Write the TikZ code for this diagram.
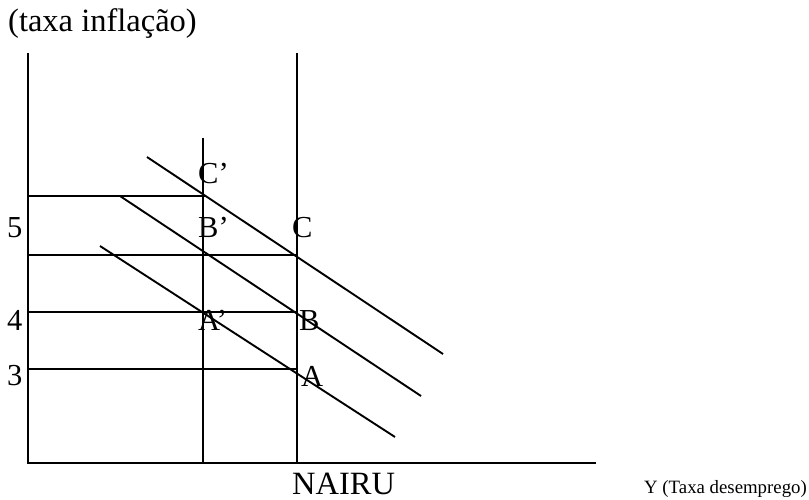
\documentclass[tikz,border=0pt]{standalone}
\usepackage{fontspec}
\setmainfont{Liberation Serif}
\begin{document}
\begin{tikzpicture}[x=1pt,y=-1pt,
  ln/.style={line width=1.9pt,black},
  lbl/.style={anchor=base west,inner sep=0pt,font=\fontsize{30.5}{32}\selectfont}]
\useasboundingbox (0,0) rectangle (809,500);
% axes
\coordinate (O) at (28,463);
\coordinate (Ytop) at (28,53);
\coordinate (Xend) at (596,463);
\draw[ln] (Ytop) -- (O) -- (Xend);
% verticals
\coordinate (Vtop) at (203,138);
\coordinate (Vbot) at (203,463);
\coordinate (Ntop) at (297,53);
\coordinate (Nbot) at (297,463);
\draw[ln] (Vtop) -- (Vbot);
\draw[ln] (Ntop) -- (Nbot);
% horizontals
\coordinate (h1a) at (28,196); \coordinate (h1b) at (206,196);
\coordinate (h2a) at (28,255); \coordinate (h2b) at (297,255);
\coordinate (h3a) at (28,312); \coordinate (h3b) at (297,312);
\coordinate (h4a) at (28,369); \coordinate (h4b) at (297,369);
\draw[ln] (h1a) -- (h1b);
\draw[ln] (h2a) -- (h2b);
\draw[ln] (h3a) -- (h3b);
\draw[ln] (h4a) -- (h4b);
% diagonals
\coordinate (d1a) at (147,157); \coordinate (d1b) at (443,354);
\coordinate (d2a) at (120,196); \coordinate (d2b) at (421,396);
\coordinate (d3a) at (100,246); \coordinate (d3b) at (395,437);
\draw[ln] (d1a) -- (d1b);
\draw[ln] (d2a) -- (d2b);
\draw[ln] (d3a) -- (d3b);
% labels
\node[anchor=base west,inner sep=0pt,font=\fontsize{32.5}{34}\selectfont] (title) at (8,32) {(taxa inflação)};
\node[lbl] (Cp) at (198,183) {C’};
\node[lbl] (Bp) at (198,237) {B’};
\node[lbl] (C) at (292,237) {C};
\node[lbl] (Ap) at (198,330) {A’};
\node[lbl] (B) at (299,330) {B};
\node[lbl] (A) at (301,386) {A};
\node[lbl] (n5) at (7,237) {5};
\node[lbl] (n4) at (7,330) {4};
\node[lbl] (n3) at (7,385) {3};
\node[anchor=base west,inner sep=0pt,font=\fontsize{32.5}{34}\selectfont] (nairu) at (292,494) {NAIRU};
\node[anchor=base east,inner sep=0pt,font=\fontsize{18.8}{20}\selectfont] (ylab) at (807,493) {Y (Taxa desemprego)};
\end{tikzpicture}
\end{document}
